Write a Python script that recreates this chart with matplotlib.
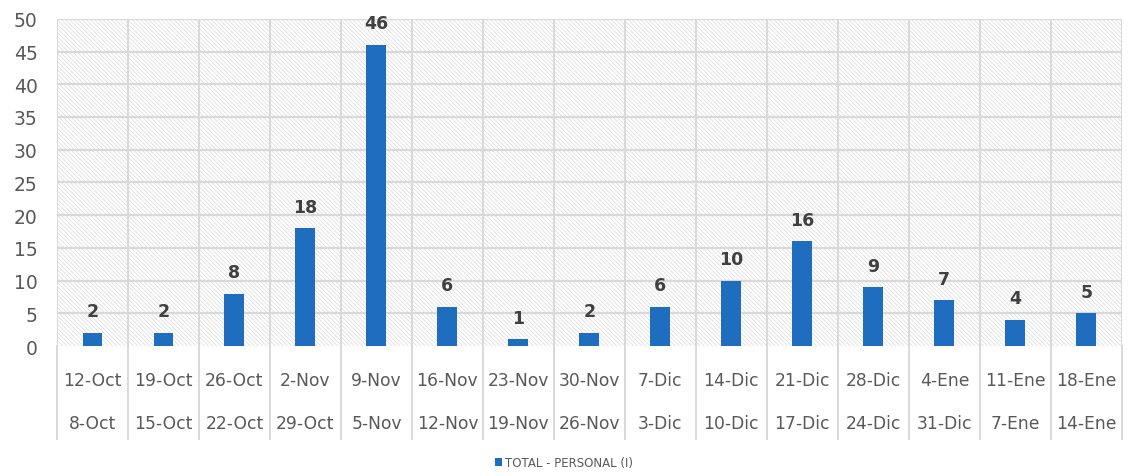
import matplotlib.pyplot as plt
import numpy as np
from matplotlib.patches import Rectangle

# semanas: fecha fin (fila superior) y fecha inicio (fila inferior)
fin_semana = ["12-Oct", "19-Oct", "26-Oct", "2-Nov", "9-Nov", "16-Nov", "23-Nov", "30-Nov",
              "7-Dic", "14-Dic", "21-Dic", "28-Dic", "4-Ene", "11-Ene", "18-Ene"]
inicio_semana = ["8-Oct", "15-Oct", "22-Oct", "29-Oct", "5-Nov", "12-Nov", "19-Nov", "26-Nov",
                 "3-Dic", "10-Dic", "17-Dic", "24-Dic", "31-Dic", "7-Ene", "14-Ene"]
total_personal = [2, 2, 8, 18, 46, 6, 1, 2, 6, 10, 16, 9, 7, 4, 5]
serie = "TOTAL - PERSONAL (I)"

plt.rcParams['font.family'] = ['DejaVu Sans']
plt.rcParams['hatch.linewidth'] = 0.5
plt.rcParams['hatch.color'] = '#dadada'

fig = plt.figure(figsize=(11.28, 4.77), dpi=100)
ax = fig.add_axes([0.0505, 0.2725, 0.944, 0.686])

n = len(total_personal)
x = np.arange(n)
ax.set_xlim(-0.5, n - 0.5)
ax.set_ylim(0, 50)

# fondo rayado
ax.add_patch(Rectangle((0, 0), 1, 1, transform=ax.transAxes, facecolor='white',
                       edgecolor='#dadada', hatch='\\' * 8, linewidth=0, zorder=0))

# cuadricula horizontal
for y in range(5, 51, 5):
    ax.axhline(y, color='#d9d9d9', linewidth=1.6, zorder=1)

# separadores verticales que bajan hasta las etiquetas
for i in range(n + 1):
    ax.plot([i - 0.5, i - 0.5], [0, 1], transform=ax.get_xaxis_transform(),
            color='#d9d9d9', linewidth=1.4, zorder=1)
    ax.plot([i - 0.5, i - 0.5], [-0.285, 0], transform=ax.get_xaxis_transform(),
            color='#d9d9d9', linewidth=1.4, clip_on=False, zorder=1)

bars = ax.bar(x, total_personal, width=0.28, color='#1f6dbf', zorder=3, label=serie)
for xi, v in zip(x, total_personal):
    ax.annotate(str(v), (xi, v), xytext=(0, 9), textcoords='offset points',
                ha='center', va='bottom', fontsize=12.5, fontweight='bold', color='#404040')

ax.set_yticks(range(0, 51, 5))
ax.tick_params(axis='y', length=0, labelsize=13.5, labelcolor='#595959', pad=14)
ax.set_xticks(x)
ax.set_xticklabels([])
ax.tick_params(axis='x', length=0)

# dos filas de etiquetas de fecha
for xi, a, b in zip(x, fin_semana, inicio_semana):
    ax.text(xi, -0.105, a, transform=ax.get_xaxis_transform(), ha='center', va='center',
            fontsize=12.3, color='#595959')
    ax.text(xi, -0.235, b, transform=ax.get_xaxis_transform(), ha='center', va='center',
            fontsize=12.3, color='#595959')

for s in ax.spines.values():
    s.set_visible(False)

fig.legend(handles=[bars], labels=[serie], loc='center', bbox_to_anchor=(0.5, 0.028),
           frameon=False, fontsize=8.5, handlelength=0.6, handleheight=0.6,
           handletextpad=0.3, labelcolor='#595959')

fig.savefig('out.png', dpi=100)
